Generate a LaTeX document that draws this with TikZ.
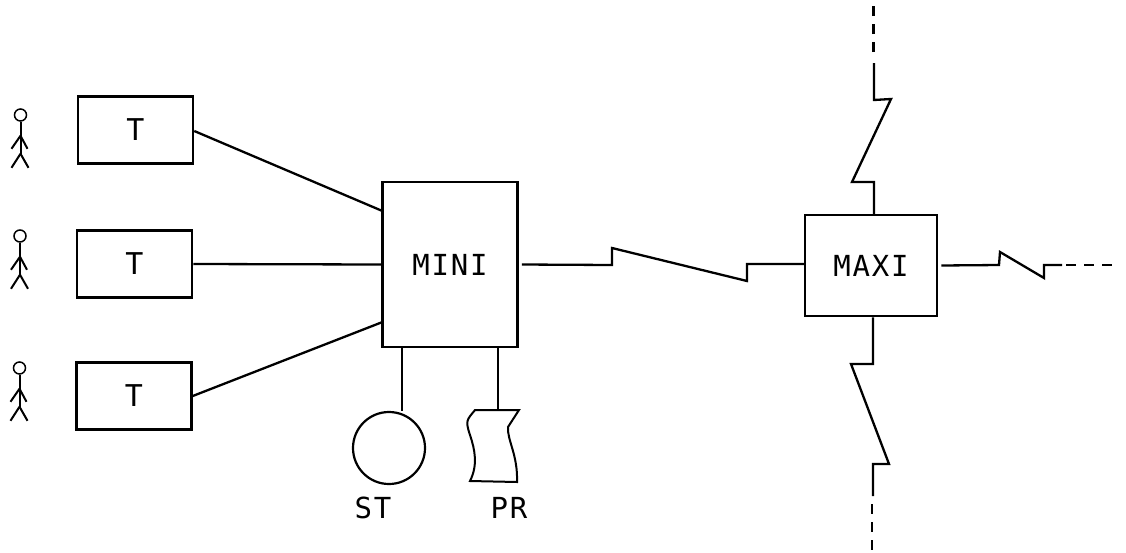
\documentclass[tikz,border=0pt]{standalone}
\usepackage{fontspec}
\newfontfamily\lab{DejaVu Sans Mono}
\newfontfamily\labw[LetterSpace=6]{DejaVu Sans Mono}
\tikzset{
  ln/.style={line width=2.3pt,line join=miter,black},
  thinln/.style={line width=2pt,black},
  termbox/.style={draw,line width=2.5pt,rectangle,inner sep=0pt,minimum width=115pt,minimum height=67pt,font=\lab\fontsize{30}{30}\selectfont},
  compbox/.style={draw,line width=2.5pt,rectangle,inner sep=0pt,font=\labw\fontsize{29}{29}\selectfont},
  head/.style={draw,circle,line width=1.5pt,inner sep=0pt,minimum size=12pt},
  lbl/.style={inner sep=0pt,font=\labw\fontsize{29}{29}\selectfont},
  dashln/.style={line width=2.5pt,dash pattern=on 10pt off 8pt}
}
\newcommand{\person}[2]{%
  \node[head] (h#1) at (#2) {};
  \draw[thinln] (h#1.south) -- ++(0,32) coordinate (c#1);
  \draw[thinln] ([yshift=-14pt]h#1.south) -- ++(-9,13);
  \draw[thinln] ([yshift=-14pt]h#1.south) -- ++(7,13);
  \draw[thinln] (c#1) -- ++(-9,14);
  \draw[thinln] (c#1) -- ++(8,14);
}
\begin{document}
\begin{tikzpicture}[x=1pt,y=-1pt]
\useasboundingbox (0,0) rectangle (1126,552);
\person{a}{20.5,115}
\person{b}{20,236}
\person{c}{19.5,368}
\node[termbox] (t1) at (135.5,130) {T};
\node[termbox] (t2) at (134.5,264) {T};
\node[termbox] (t3) at (134,396) {T};
\node[compbox,minimum width=135pt,minimum height=165pt] (mini) at (450,264.5) {MINI};
\node[compbox,minimum width=132pt,minimum height=101pt] (maxi) at (871,265.5) {MAXI};
\node[draw,circle,line width=2.2pt,inner sep=0pt,minimum size=72pt] (st) at (389,448) {};
\coordinate (pr) at (498,410);
\draw[line width=2pt] (475,410) -- (519,410) -- (508,427)
  .. controls (507,440) and (518,455) .. (517,482) -- (470,481)
  .. controls (478,465) and (475,450) .. (470,435)
  .. controls (465,420) and (467,420) .. (475,410) -- cycle;
\node[lbl] (stl) at (373,508) {ST};
\node[lbl] (prl) at (509,508) {PR};
% terminals to mini
\draw[ln] ([yshift=-1pt]t1.east) -- ([yshift=54pt]mini.west);
\draw[ln] (t2.east) -- (mini.west);
\draw[ln] (t3.east) -- ([yshift=-58pt]mini.west);
% mini to peripherals
\draw[ln] ([xshift=-48pt]mini.south) -- ([xshift=13pt]st.north);
\draw[ln] ([xshift=48pt]mini.south) -- (pr);
% mini to maxi
\coordinate (z1) at (612,265);
\coordinate (z2) at (612,248);
\coordinate (z3) at (747,281);
\coordinate (z4) at (747,264);
\draw[ln] ([xshift=3pt]mini.east) -- (z1) -- (z2) -- (z3) -- (z4) -- ([xshift=2pt]maxi.west |- z4);
% maxi right
\coordinate (r1) at (999,265);
\coordinate (r2) at (1000,252);
\coordinate (r3) at (1044,278);
\coordinate (r4) at (1044,265);
\coordinate (r5) at (1062,265);
\coordinate (r6) at (1115,265);
\draw[ln] ([xshift=3pt]maxi.east) -- (r1) -- (r2) -- (r3) -- (r4) -- (r5);
\draw[dashln] (r5) ++(4,0) -- (r6);
% maxi top
\coordinate (u1) at (874,182);
\coordinate (u2) at (852,182);
\coordinate (u3) at (891,99);
\coordinate (u4) at (874,100);
\coordinate (u5) at (874,63);
\coordinate (u6) at (873.5,5);
\draw[ln] (maxi.north -| u1) -- (u1) -- (u2) -- (u3) -- (u4) -- (u5);
\draw[dashln] (873.5,52) -- (u6);
% maxi bottom
\coordinate (d1) at (873,364);
\coordinate (d2) at (851,364);
\coordinate (d3) at (889,464);
\coordinate (d4) at (873,464);
\coordinate (d5) at (873,496);
\coordinate (d6) at (872,550);
\draw[ln] (maxi.south -| d1) -- (d1) -- (d2) -- (d3) -- (d4) -- (d5);
\draw[dashln] (872,504) -- (d6);
\end{tikzpicture}
\end{document}
